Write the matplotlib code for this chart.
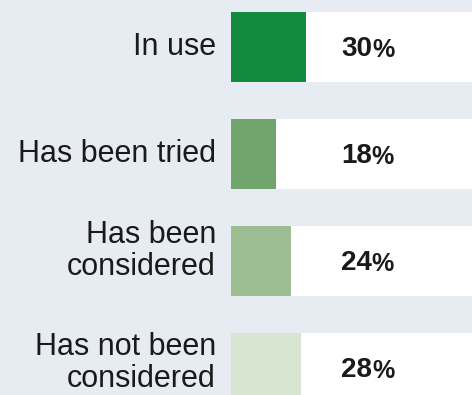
import matplotlib.pyplot as plt

plt.rcParams['font.family'] = ['Liberation Sans', 'DejaVu Sans']

# data
categories = ["In use", "Has been tried", "Has been\nconsidered", "Has not been\nconsidered"]
values = [30, 18, 24, 28]
colors = ["#148a3e", "#72a46e", "#9dbd93", "#d7e5d1"]
bg = "#e7ecf3"

fig = plt.figure(figsize=(4.72, 3.95), dpi=100)
fig.patch.set_facecolor(bg)
ax = fig.add_axes([0, 0, 1, 1])
ax.set_facecolor(bg)

# 2.5 px per percent, bars start at x=231px
x_left, x_right = -231 / 2.5, (472 - 231) / 2.5
ax.set_xlim(x_left, x_right)
ax.set_ylim((395 - 47) / 107, -47 / 107)

ys = list(range(len(categories)))
h = 70 / 107
label_shift = [0, 0, -0.09, -0.05]  # label nudges (rows)

# white band behind each bar
ax.barh(ys, [x_right] * len(ys), height=h, color="white", left=0)
ax.barh(ys, values, height=h, color=colors)

for y, cat, v, dy in zip(ys, categories, values, label_shift):
    ax.text(-6, y + dy, cat, ha="right", va="center", fontsize=22,
            color="#1a1a1a", linespacing=1.08)
    t = ax.text(44, y + 0.02, str(v), ha="left", va="center", fontsize=20,
                fontweight="bold", color="#1a1a1a")
    ax.annotate("%", xy=(1, 0), xycoords=t, ha="left", va="bottom",
                fontsize=18, color="#1a1a1a", fontweight="bold")

ax.axis("off")
fig.savefig("out.png", dpi=100, facecolor=bg)
